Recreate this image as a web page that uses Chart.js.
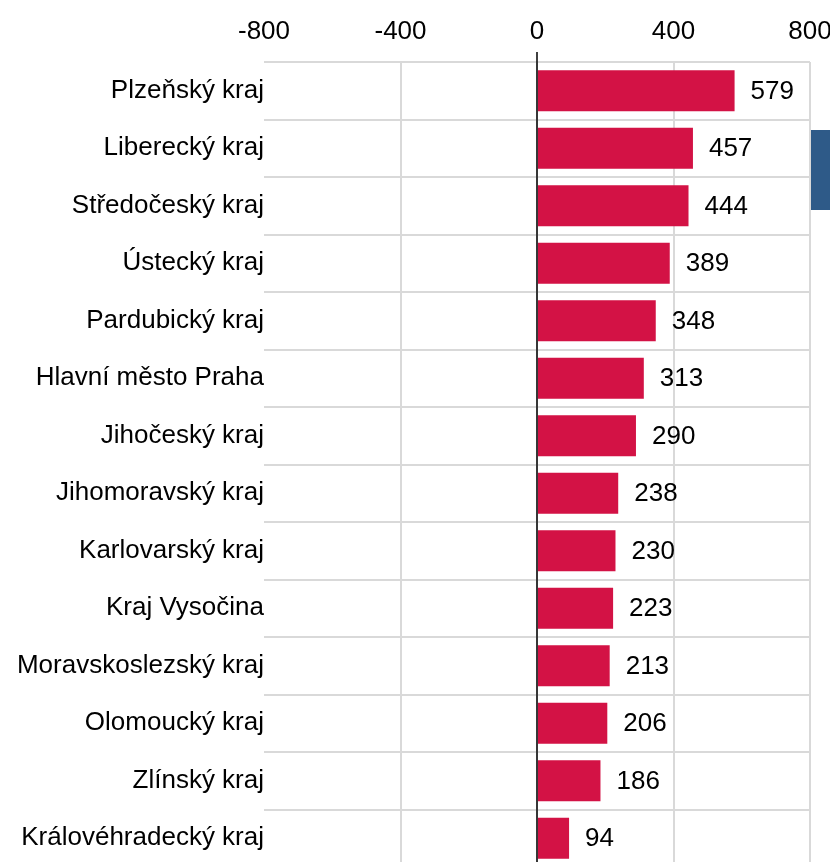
<!DOCTYPE html>
<html>
<head>
<meta charset="utf-8">
<script src="https://cdn.jsdelivr.net/npm/chart.js@4/dist/chart.umd.min.js"></script>
<style>
  html, body { margin: 0; padding: 0; background: #fff; overflow: hidden; }
  #wrap { position: relative; width: 830px; height: 870px; }
  #side { position: absolute; left: 811px; top: 130px; width: 19px; height: 80px; background: #2E5A88; }
</style>
</head>
<body>
<div id="wrap">
  <canvas id="c" width="830" height="870"></canvas>
  <div id="side"></div>
</div>
<script>
const categories = [
  "Plzeňský kraj", "Liberecký kraj", "Středočeský kraj", "Ústecký kraj",
  "Pardubický kraj", "Hlavní město Praha", "Jihočeský kraj", "Jihomoravský kraj",
  "Karlovarský kraj", "Kraj Vysočina", "Moravskoslezský kraj", "Olomoucký kraj",
  "Zlínský kraj", "Královéhradecký kraj"
];
const values = [579, 457, 444, 389, 348, 313, 290, 238, 230, 223, 213, 206, 186, 94];
const xMin = -800;
const xMax = 800;
const xStep = 400;

const FONT = "'Liberation Sans', Arial, sans-serif";
const FSIZE = 26;

const valueLabels = {
  id: 'valueLabels',
  afterDatasetsDraw(chart) {
    const ctx = chart.ctx;
    const meta = chart.getDatasetMeta(0);
    ctx.save();
    ctx.font = FSIZE + "px " + FONT;
    ctx.fillStyle = "#000";
    ctx.textAlign = "left";
    ctx.textBaseline = "middle";
    meta.data.forEach((bar, i) => {
      ctx.fillText(String(values[i]), bar.x + 16, bar.y + 1);
    });
    ctx.restore();
  }
};

const zeroLine = {
  id: 'zeroLine',
  afterDatasetsDraw(chart) {
    const ctx = chart.ctx;
    const x = chart.scales.x.getPixelForValue(0);
    ctx.save();
    ctx.strokeStyle = "#000";
    ctx.lineWidth = 1.5;
    ctx.beginPath();
    ctx.moveTo(x, chart.chartArea.top - 10);
    ctx.lineTo(x, chart.chartArea.bottom);
    ctx.stroke();
    ctx.restore();
  }
};

new Chart(document.getElementById('c'), {
  type: 'bar',
  data: {
    labels: categories,
    datasets: [{
      data: values,
      backgroundColor: '#D31245',
      borderWidth: 0,
      barPercentage: 0.71,
      categoryPercentage: 1.0
    }]
  },
  options: {
    indexAxis: 'y',
    responsive: false,
    animation: false,
    layout: { padding: { left: 0, right: 20, top: 0, bottom: 3 } },
    plugins: { legend: { display: false }, tooltip: { enabled: false } },
    scales: {
      x: {
        position: 'top',
        min: xMin,
        max: xMax,
        afterFit(scale) {
          scale.height = 62;
          scale.paddingLeft = 0;
          scale.paddingRight = 0;
        },
        ticks: {
          stepSize: xStep,
          color: '#000',
          padding: 15,
          font: { family: FONT, size: FSIZE },
          maxRotation: 0
        },
        grid: {
          drawTicks: false,
          lineWidth: 2,
          color: (c) => (c.tick && c.tick.value === xMin) ? 'rgba(0,0,0,0)' : '#d9d9d9'
        },
        border: { display: false }
      },
      y: {
        afterFit(scale) {
          scale.width = 264;
          scale.paddingTop = 0;
          scale.paddingBottom = 0;
        },
        ticks: {
          color: '#000',
          padding: 0,
          font: { family: FONT, size: FSIZE }
        },
        grid: {
          drawTicks: false,
          lineWidth: 2,
          color: '#d9d9d9'
        },
        border: { display: false }
      }
    }
  },
  plugins: [valueLabels, zeroLine]
});
</script>
</body>
</html>
